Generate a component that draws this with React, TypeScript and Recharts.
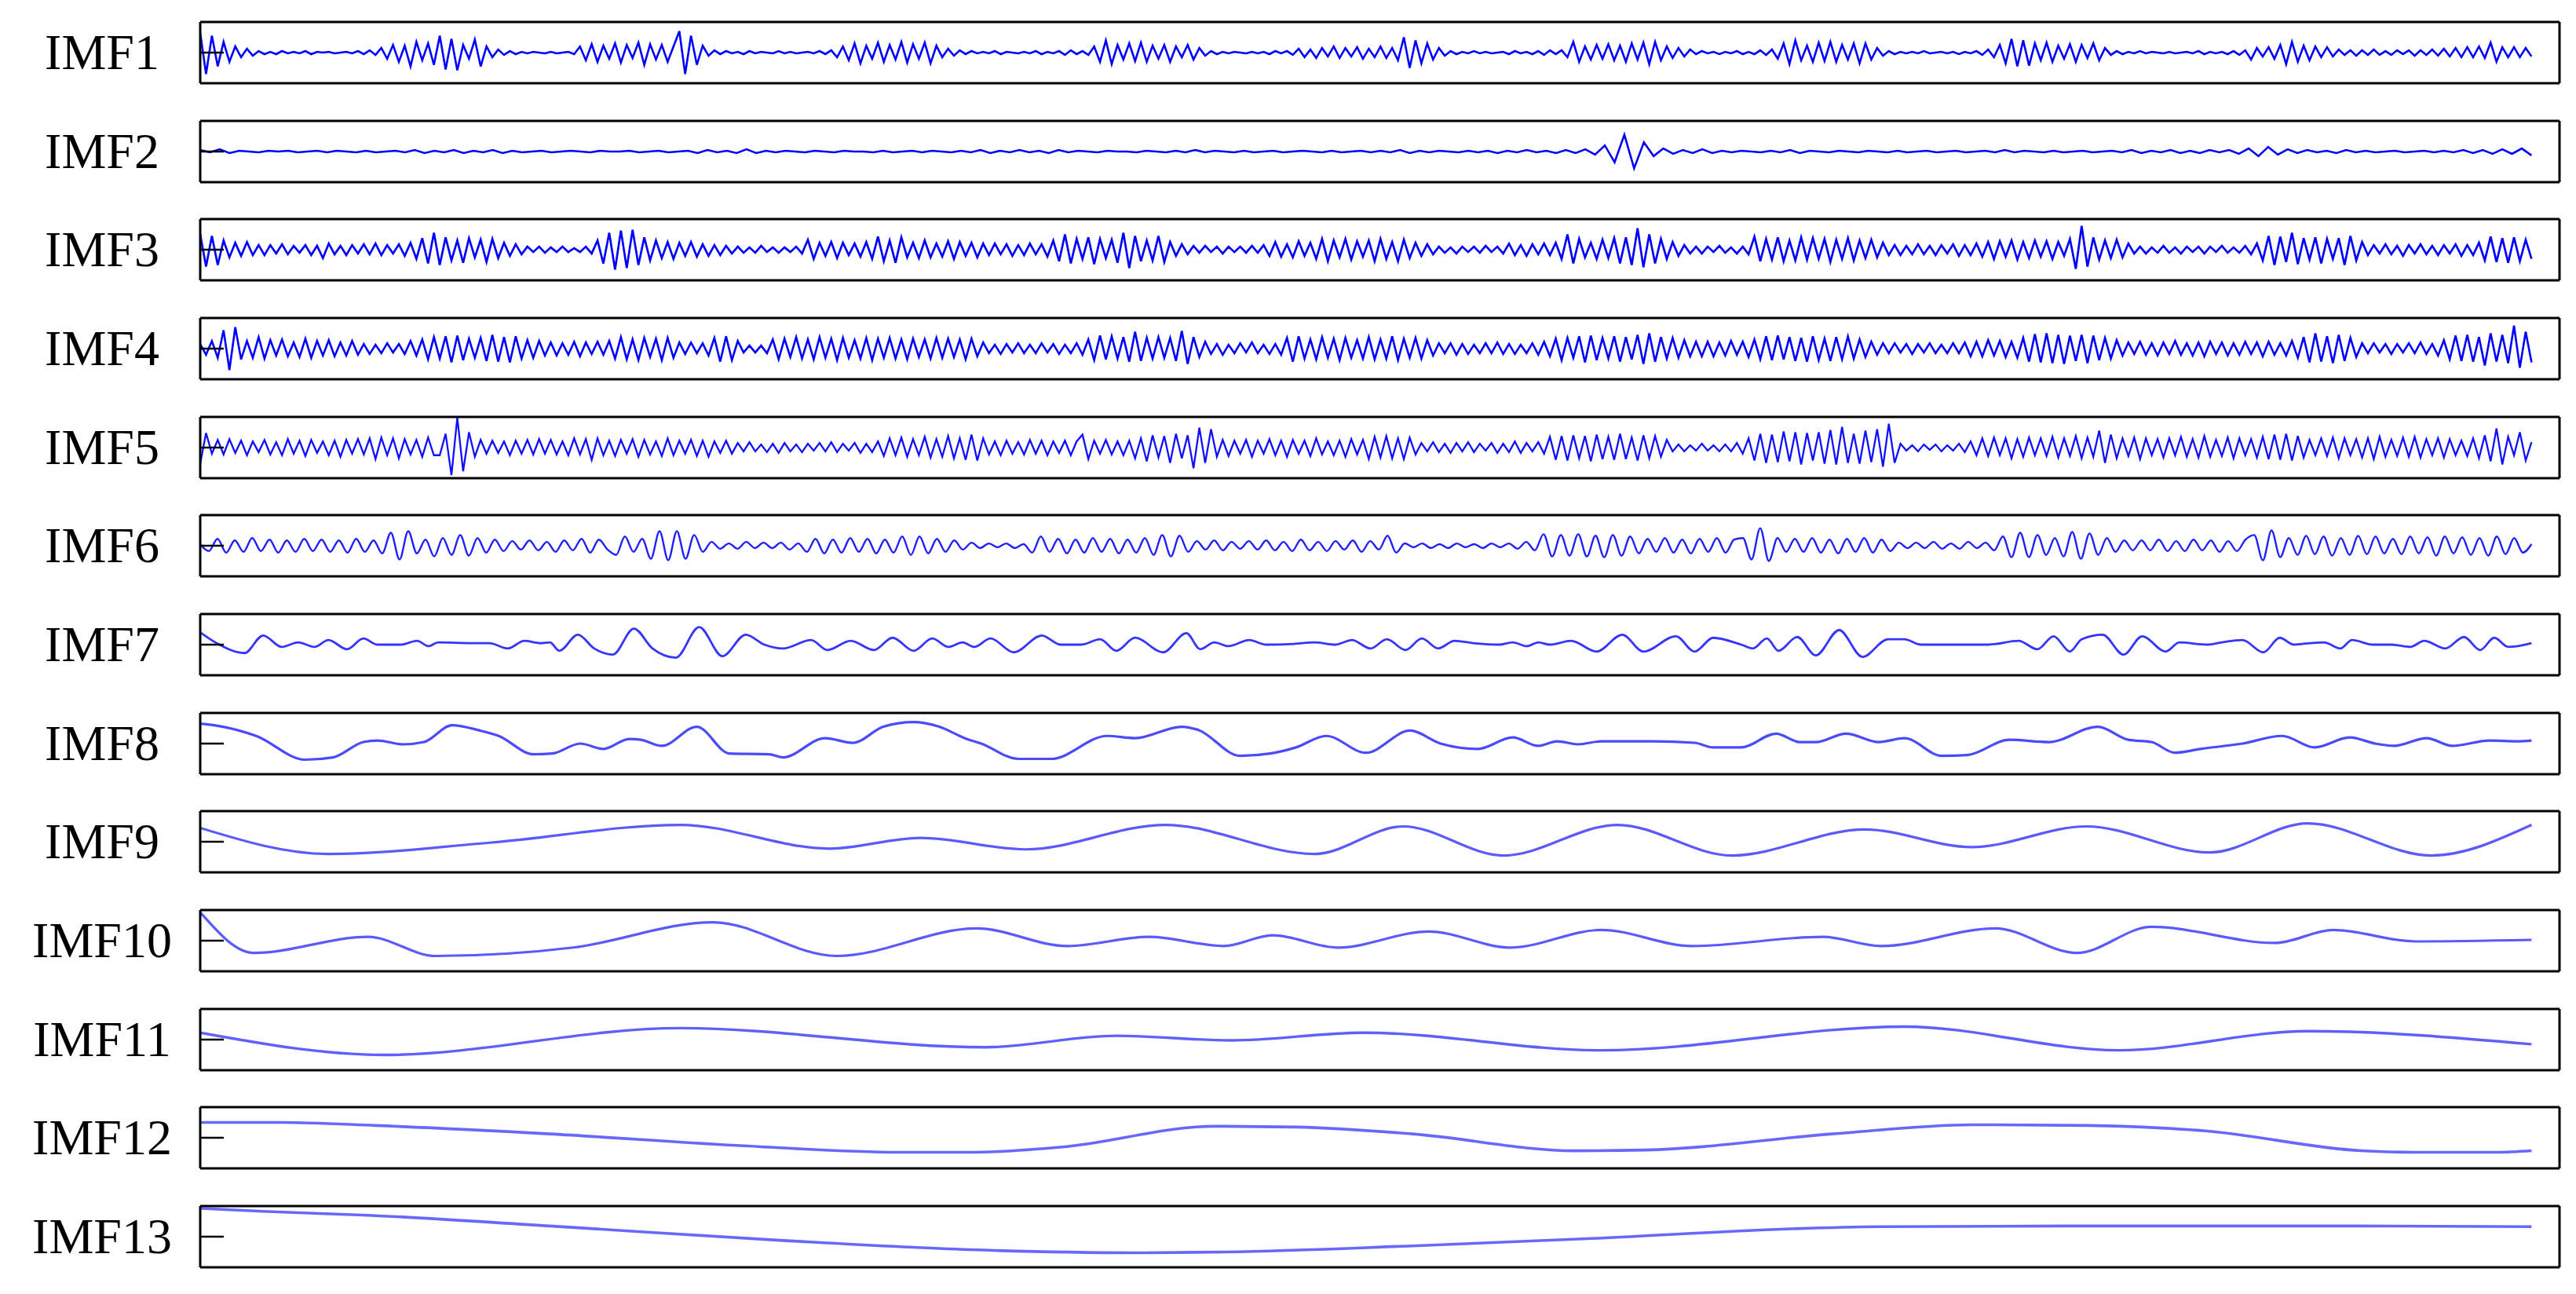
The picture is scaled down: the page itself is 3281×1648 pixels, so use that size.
import React from 'react';
import { LineChart, Line, XAxis, YAxis } from 'recharts';

const labels = ['IMF1', 'IMF2', 'IMF3', 'IMF4', 'IMF5', 'IMF6', 'IMF7', 'IMF8', 'IMF9', 'IMF10', 'IMF11', 'IMF12', 'IMF13'];

// Uniformly sampled extrema (high-frequency modes)
const imf1 = [
  26,-28,22,-18,14,-12,
  8,-6,5,-4,
  2,-2,1,-2,2,-1,1,-1,2,-2,1,0,1,-1,0,1,-1,2,-2,3,-3,
  6,-8,10,-12,9,-18,14,-10,12,-16,22,-22,18,-23,10,-8,17,-18,8,-6,4,
  -3,2,-2,1,-1,1,0,-1,1,-1,0,1,-2,
  8,-10,11,-12,9,-8,12,-13,10,-7,13,-16,11,-9,10,-12,8,
  28,-28,22,-16,9,
  -4,3,-2,2,-1,1,-2,2,-1,1,0,-1,2,-1,1,-1,0,1,-1,2,-2,3,
  -6,8,-10,12,-14,9,-8,13,-12,10,-9,14,-13,11,-8,13,-14,9,-6,5,-4,3,
  -2,2,-1,1,-1,2,-2,1,0,-1,1,-1,2,-2,1,-1,2,-3,3,-2,2,-3,
  8,-12,16,-15,10,-9,12,-11,13,-12,9,-8,10,-12,8,-6,10,-9,6,-4,
  2,-2,1,-1,1,0,-1,1,-1,1,-2,2,-1,2,-3,
  5,-6,4,-7,6,-5,8,-7,6,-5,7,-8,5,-6,8,-7,6,
  -10,20,-20,16,-14,12,-9,6,-4,
  2,-2,1,-1,2,-1,1,-1,0,1,-2,2,-1,1,-2,2,-3,3,-2,3,
  -6,14,-12,8,-9,10,-8,11,-10,9,-12,12,-9,13,-15,14,-10,8,-7,6,-5,4,
  -2,2,-1,1,-2,1,-1,2,-2,1,-2,3,-3,4,
  -8,12,-15,16,-10,9,-12,13,-11,14,-12,10,-9,12,-14,12,-9,6,-4,
  2,-2,1,-1,1,-1,2,-1,0,1,-1,1,-2,1,-1,2,-3,4,
  -6,10,-14,18,-18,16,-17,12,-10,13,-12,9,-8,11,-12,10,-7,12,-10,6,-3,
  2,-2,1,-1,2,-1,1,0,-1,1,-1,0,1,-1,2,-2,1,-1,1,-2,2,-3,3,
  -9,6,-5,7,-8,10,-15,14,-12,9,-10,8,-6,7,-5,4,-3,
  3,-4,3,-3,4,-3,2,-3,3,-2,3,-4,3,-3,4,-4,5,-5,6,
  -6,7,-6,8,-7,13,-12,7,-6,7,-6,6,-5,
];

const imf2 = [
  2,-1,3,-2,1,0,-1,1,0,1,
  -1,0,1,-1,1,0,-1,1,-1,0,
  1,-1,2,-2,1,-1,2,-2,1,-1,
  2,-2,1,-1,0,1,-1,0,1,0,
  -1,1,0,0,1,-1,0,1,-1,0,
  1,-2,2,-1,1,-2,3,-2,1,-1,
  1,0,-1,1,0,-1,1,0,0,-1,
  1,-1,0,1,-1,1,0,-1,1,-1,
  2,-2,1,-1,2,-1,1,-2,2,-1,
  1,0,-1,1,0,0,-1,1,0,-1,
  1,-1,2,-1,1,0,-1,1,-1,0,
  1,-1,0,1,0,-1,1,-1,0,1,
  -1,1,-1,2,-2,1,-1,1,0,-1,
  1,-1,1,-2,1,-1,2,-1,1,-2,
  2,-2,3,-4,8,-14,22,-22,12,-6,
  4,-3,2,-2,3,-2,1,-1,1,0,
  -1,1,-1,2,-2,1,0,-1,1,0,
  -1,1,0,-1,1,-1,0,1,-1,0,
  1,-1,0,1,-1,2,-1,1,0,-1,
  1,-1,0,1,-1,0,1,-1,2,-2,
  1,-1,2,-2,1,-2,2,-1,2,-3,
  4,-6,6,-4,3,-2,2,-1,1,-2,
  2,-1,1,-1,0,1,-1,0,1,-1,
  1,-1,2,-2,2,-3,3,-3,4,-5,
];

const imf3 = [
  20,-22,18,-20,12,
  -10,9,-8,10,-7,6,
  -7,6,-5,7,-6,5,-4,6,-7,5,-11,8,-6,5,-7,6,-5,7,-6,8,-7,6,-5,7,-8,
  9,-12,15,-18,22,-20,16,-14,12,-17,15,-10,13,-16,14,-11,9,-8,7,-6,
  4,-3,4,-4,3,-3,4,-3,2,-3,4,-5,
  12,-18,22,-26,25,-24,26,-20,16,-14,
  12,-11,10,-12,9,-8,10,-9,7,-8,6,-7,5,-5,
  4,-4,3,-4,5,-3,3,-4,3,-3,4,-5,
  13,-12,9,-8,10,-11,9,-7,8,-9,10,-12,17,-15,12,-17,16,-10,9,-11,12,-10,8,-9,11,-12,10,-8,9,-10,8,
  -7,8,-6,7,-8,6,-7,8,-6,7,-9,
  12,-15,20,-18,14,-12,16,-19,14,-11,13,-17,22,-24,18,-15,12,-14,18,-16,10,-8,7,-6,
  5,-4,5,-3,4,-5,4,-3,4,-4,5,-4,6,
  -8,10,-9,7,-10,11,-8,9,-12,14,-15,12,-10,14,-13,11,-9,12,-15,14,-12,10,-15,13,-11,9,-8,7,-6,
  4,-4,3,-5,4,-3,4,-4,5,-3,4,-5,
  8,-7,6,-8,7,-6,8,-7,9,
  -12,20,-18,14,-10,9,-12,13,-11,15,-18,16,-20,28,-23,20,-18,14,-12,10,-8,6,
  -5,4,-5,4,-3,5,-4,3,-5,4,-6,17,
  -15,14,-13,16,-15,12,-14,16,-13,15,-12,14,-16,13,-12,15,-14,12,-11,13,-10,9,
  -7,6,-7,5,-6,7,-6,5,-7,6,-5,7,-8,6,-7,8,-9,
  10,-12,11,-9,12,-13,10,-11,12,-9,11,-12,10,-8,
  14,-25,31,-22,16,
  -13,12,-11,13,-10,8,
  -5,4,-5,3,-4,5,-4,3,-5,4,-3,4,-5,4,-3,5,-4,3,-4,5,-6,8,
  -14,18,-20,17,-16,22,-19,15,-13,16,-18,14,-12,15,-20,18,-14,10,
  -7,6,-5,7,-6,5,-8,6,-5,7,-6,5,-7,6,-5,7,-8,6,-7,9,
  -14,17,-16,15,-17,16,-15,13,-12,
];

const imf4 = [
  6,-8,10,-12,24,-28,28,-14,
  10,-12,15,-13,11,-9,12,-10,8,-11,13,-12,10,-9,11,-10,8,-9,10,-8,
  6,-7,5,-6,7,-5,6,-7,10,-9,
  12,-14,15,-13,16,-18,17,-15,13,-12,14,-16,18,-17,15,-18,16,-13,11,-12,10,-9,
  8,-9,7,-8,9,-10,8,-7,9,-8,10,
  -13,15,-14,12,-15,14,-11,13,-15,14,-12,
  8,-7,8,-6,7,-9,
  14,-17,16,-15,10,
  -5,4,-5,4,-6,
  12,-14,13,-11,15,-13,12,-14,15,-12,13,-15,14,-12,11,-13,14,-15,13,-12,14,-13,12,-14,13,-11,12,-13,14,-12,13,-11,12,-14,13,-10,8,
  -6,5,-7,6,-5,7,-6,5,-6,7,-5,6,-7,5,-6,7,-8,
  12,-15,17,-14,16,-13,15,-17,22,-16,14,-13,15,-12,14,-16,23,-20,15,-11,9,
  -7,6,-8,5,-6,7,-5,8,-6,5,-7,6,-8,
  14,-17,16,-13,12,-14,15,-12,13,-15,14,-12,11,-13,15,-14,12,-13,16,-15,13,-12,14,-13,11,-9,
  7,-6,7,-8,6,-7,5,-6,7,-6,8,-7,6,-7,5,-6,7,-8,9,-10,
  13,-15,14,-12,16,-18,17,-15,14,-13,16,-17,15,-14,18,-20,20,-17,15,-13,14,-12,11,-10,9,
  -10,9,-10,8,-9,10,-8,9,-11,12,-14,
  16,-15,17,-14,15,-16,14,-17,16,-15,13,-16,15,-14,16,-13,12,-11,9,-8,
  7,-6,7,-5,6,-7,6,-5,7,-6,5,-6,7,-6,8,
  -10,9,-10,11,-9,10,-11,9,-12,14,
  -17,19,-18,20,-19,18,-20,17,-16,18,-19,17,-15,14,-13,11,-9,
  8,-7,9,-8,7,-9,8,-7,10,-8,7,-9,8,-10,9,-7,8,-9,7,-8,9,-7,8,-10,9,-8,7,-9,10,-12,
  15,-18,20,-17,16,-19,18,-16,14,-11,
  7,-6,7,-5,6,-7,6,-5,7,-6,8,-7,6,-9,11,
  -14,17,-16,18,-17,15,-22,20,-17,18,-19,30,-25,22,-18,
];

const imf5 = [
  -21,19,
  -8,10,-9,11,-7,9,-10,8,-6,10,-9,7,-10,11,-8,9,-11,10,-7,8,-10,9,-12,10,-8,11,-9,12,-15,13,-10,12,-14,11,-9,10,-12,13,-10,
  -10,18,-36,39,-31,20,-12,
  10,-8,9,-7,8,-10,9,-8,10,-9,11,-8,10,-9,8,-10,12,-9,11,-16,12,-10,9,-11,10,-8,11,-12,10,-9,8,-11,12,-10,9,-8,10,-11,9,-12,8,-7,9,-8,
  6,-5,7,-5,4,-6,5,-7,6,-5,4,-6,5,-4,6,-5,7,-6,5,-4,6,-7,5,-6,8,
  -11,12,-10,13,-12,11,-10,14,-13,11,-12,15,-14,12,-16,17,-17,12,
  -9,8,-10,9,-8,7,-9,10,-8,9,-10,8,-7,9,-10,8,17,-15,9,-8,10,-9,8,-10,9,
  -14,12,-18,16,-13,15,-20,18,-14,16,-27,26,-20,24,
  -12,10,-11,9,-8,10,-12,9,-8,11,-10,9,-12,10,-8,9,-11,12,-9,8,-10,9,-12,11,-9,10,
  -15,14,-13,15,-14,12,-15,13,-9,
  6,-5,7,-6,5,-7,6,-5,7,-6,5,-4,6,-7,5,-6,8,-7,6,-5,7,-8,
  14,-16,15,-17,16,-14,15,-18,17,-15,14,-16,18,-15,13,-17,16,-14,15,-12,10,
  -5,4,-5,3,-4,5,-4,3,-5,4,-5,6,-8,12,-17,
  18,-20,17,-19,21,-18,20,-22,19,-17,20,-21,23,-22,27,-20,18,-21,22,-19,24,-25,31,-20,
  5,-4,3,-5,4,-3,4,-5,3,-4,5,-6,8,
  -10,12,-11,13,-10,12,-14,11,-12,13,-10,12,-11,14,-13,12,-11,15,-14,13,-12,22,-20,17,-14,12,-11,13,-15,12,-10,11,-13,12,-10,14,-12,11,-13,15,-12,10,-11,13,-14,12,-10,11,-13,14,-15,
  17,-16,18,-17,15,-13,10,
  -10,12,-11,13,-14,12,-10,11,-13,12,-15,14,-12,10,-11,13,-12,14,-13,11,-10,12,-13,11,-10,9,-11,12,
  -14,16,-18,25,-22,14,-10,20,-17,7,
];

const imf6 = [
  2,-7,9,-9,7,-8,10,-7,8,-9,7,-8,9,-7,8,-8,7,-9,9,-8,7,-10,
  17,-18,19,-10,8,-14,
  10,-12,14,-13,10,-9,8,-7,
  6,-5,7,-6,5,-8,7,-6,9,-9,8,-5,-12,12,-8,9,-17,
  19,-19,19,-17,14,-8,5,
  -4,3,-4,5,-3,4,-3,4,-5,3,
  -8,9,-10,8,-9,10,-8,9,-10,8,-9,12,-12,12,-10,9,-8,7,-5,4,-3,3,
  -2,3,-3,2,
  -9,12,-8,9,-10,8,-9,10,-8,9,-10,8,-9,10,
  -12,14,-14,13,-8,
  6,-5,7,-6,5,-4,6,-5,7,-6,5,-7,8,-6,5,-7,6,-5,7,-8,6,-5,
  13,-9,
  3,-2,3,-3,2,-3,3,-2,2,-3,3,-2,3,-4,5,-6,
  15,-14,14,-13,15,-14,13,-15,14,-13,12,-10,9,
  -8,10,-9,8,-10,9,-8,10,-9,8,10,-18,
  23,-20,10,-8,
  9,-8,10,-9,8,-10,9,-8,10,-9,8,-7,4,-3,4,-3,5,-4,3,-4,5,-3,4,-6,
  12,-15,17,-15,14,-12,10,-14,18,-17,16,-12,10,-8,7,
  -6,7,-6,8,-7,6,-7,8,-6,7,-8,6,-7,8,
  14,-19,20,-15,10,
  -12,13,-11,12,-13,10,-12,13,-11,12,-10,9,-11,12,-10,11,-13,12,-10,11,-12,10,-13,12,-11,10,-9,2,
];

// [time, value] pairs (lower-frequency modes)
const imf7 = [
  [0,16],[7,2],[19,-11],[27,12],[35,-3],[42,3],[49,-3],[55,6],[63,-6],[70,8],[76,0],[86,0],[93,5],[98,-2],[102,3],[117,2],[124,2],[132,-5],[139,5],[146,2],[150,3],[154,-8],[162,13],[169,-5],[177,-13],[186,21],[194,-5],[204,-17],[214,23],[224,-15],[234,13],[242,0],[250,-5],[262,6],[269,-7],[279,5],[289,-7],[297,9],[306,-8],[314,8],[321,-3],[327,3],[332,-3],
  [339,8],[349,-10],[361,12],[369,0],[378,0],[386,7],[393,-8],[401,9],[413,-10],[423,15],[429,-6],[435,3],[441,-2],[450,6],[457,0],[469,1],[478,3],[487,0],[494,6],[502,-5],[509,7],[517,-7],[524,8],[531,-5],[538,5],[546,2],[557,0],[563,3],[569,-2],[574,3],[579,0],[588,5],[599,-9],[610,13],[619,-9],[633,11],[641,-9],[649,9],[661,0],[666,-5],
  [672,8],[677,-8],[685,10],[693,-14],[703,19],[713,-16],[724,7],[731,7],[738,0],[750,0],[767,0],[780,5],[788,-6],[795,11],[802,-9],[807,7],[816,13],[825,-13],[833,11],[843,-9],[849,3],[861,0],[867,3],[876,6],[885,-10],[892,9],[898,0],[905,2],[911,3],[918,-5],[923,6],[932,0],[940,0],[948,-3],[954,5],[963,-5],[971,10],[978,-7],[984,9],[990,-3],[1000,2],
];

const imf8 = [
  [0,26],[8,23],[24,10],[45,-21],[57,-18],[70,2],[76,4],[87,-1],[96,2],[108,24],[120,17],[128,10],[143,-14],[151,-13],[163,0],[173,-7],[184,6],[189,5],[198,-3],[213,22],[227,-13],[244,-14],[250,-18],[268,7],[280,1],[293,22],[306,28],[317,22],[328,7],
  [335,0],[351,-20],[365,-20],[389,10],[401,7],[421,22],[428,18],[446,-16],[459,-13],[470,-5],[483,10],[500,-12],[519,17],[532,0],[548,-7],[563,8],[574,-3],[582,3],[591,-1],[601,3],[617,3],[623,3],[641,1],[649,-5],[661,-5],
  [676,13],[686,2],[693,2],[706,13],[720,2],[731,7],[747,-16],[758,-15],[776,5],[793,2],[814,22],[827,5],[837,2],[847,-12],[858,-7],[876,0],[893,10],[907,-5],[922,8],[933,0],[941,-3],[955,7],[966,-3],[982,4],[994,3],[1000,4],
];

const imf9 = [
  [0,18],[55,-16],[125,-1],[206,22],[270,-9],[309,5],[354,-10],[414,22],[478,-16],[516,20],[559,-18],[608,22],[657,-18],[714,16],[760,-7],[809,20],[862,-14],[904,24],[957,-18],[1000,22],
];

const imf10 = [
  [0,37],[23,-16],[72,5],[101,-20],[160,-9],[220,24],[273,-20],[333,16],[372,-7],[407,5],[439,-7],[460,7],[488,-9],[527,12],[562,-9],[601,14],[640,-7],[696,5],[721,-7],[770,16],[805,-16],[837,18],[890,-3],[915,14],[950,-1],[1000,1],
];

const imf11 = [
  [0,9],[79,-20],[206,15],[337,-10],[393,5],[442,-1],[499,9],[601,-14],[731,17],[823,-14],[904,11],[1000,-6],
];

const imf12 = [
  [0,20],[35,20],[75,16],[150,5],[230,-10],[300,-19],[330,-19],[370,-12],[435,15],[470,14],[520,5],[590,-17],[620,-16],[700,5],[760,17],[810,16],[860,9],[927,-17],[950,-19],[985,-19],[1000,-17],
];

const imf13 = [
  [0,37],[27,33],[72,28],[150,14],[250,-5],[330,-17],[400,-21],[440,-20],[520,-12],[600,-2],[680,10],[720,13],[800,14],[925,14],[1000,13],
];

const uniformRows = (vals: number[]) => vals.map((v, i) => ({ t: (i * 1000) / (vals.length - 1), v }));
const pairRows = (pairs: number[][]) => pairs.map(([t, v]) => ({ t, v }));

const PANELS = [
  { rows: uniformRows(imf1), color: '#0000ff', w: 2.6, curve: 'linear' },
  { rows: uniformRows(imf2), color: '#0000ff', w: 2.6, curve: 'linear' },
  { rows: uniformRows(imf3), color: '#0000ff', w: 2.7, curve: 'linear' },
  { rows: uniformRows(imf4), color: '#0000ff', w: 2.6, curve: 'linear' },
  { rows: uniformRows(imf5), color: '#1010ff', w: 2.3, curve: 'linear' },
  { rows: uniformRows(imf6), color: '#2020ff', w: 2.4, curve: 'monotone' },
  { rows: pairRows(imf7), color: '#3535ff', w: 2.8, curve: 'monotone' },
  { rows: pairRows(imf8), color: '#4a4aff', w: 3.2, curve: 'monotone' },
  { rows: pairRows(imf9), color: '#5a5aff', w: 3.2, curve: 'monotone' },
  { rows: pairRows(imf10), color: '#5a5aff', w: 3.2, curve: 'monotone' },
  { rows: pairRows(imf11), color: '#6060ff', w: 3.4, curve: 'monotone' },
  { rows: pairRows(imf12), color: '#6868ff', w: 3.6, curve: 'monotone' },
  { rows: pairRows(imf13), color: '#6868ff', w: 3.6, curve: 'monotone' },
];

const PLOT_LEFT = 256;
const PLOT_W = 3004;
const PLOT_H = 78;
const TOP0 = 28;
const STEP = 125.65;
const PAD = 4;
const AX = 1;
const FRAME = { stroke: '#000', strokeWidth: 3 };

export default function App() {
  return (
    <div style={{ position: 'absolute', left: 0, top: 0, width: 3281, height: 1648, background: '#fff', overflow: 'hidden' }}>
      <svg width={3281} height={1648} style={{ position: 'absolute', left: 0, top: 0 }}>
        {labels.map((lab, i) => (
          <text
            key={lab}
            x={130}
            y={Math.round(TOP0 + STEP * i + PLOT_H / 2 + 21)}
            textAnchor="middle"
            fontFamily="'Liberation Serif', 'Times New Roman', serif"
            fontSize={64}
            fill="#000"
          >
            {lab}
          </text>
        ))}
      </svg>
      {PANELS.map((p, i) => (
        <div key={labels[i]} style={{ position: 'absolute', left: PLOT_LEFT - PAD - AX, top: Math.round(TOP0 + STEP * i) - PAD - AX }}>
          <LineChart
            width={PLOT_W + 2 * PAD + 2 * AX}
            height={PLOT_H + 2 * PAD + 2 * AX}
            data={p.rows}
            margin={{ top: PAD, right: PAD, bottom: PAD, left: PAD }}
          >
            <XAxis dataKey="t" type="number" domain={[0, 1012]} allowDataOverflow height={AX} tick={false} tickLine={false} axisLine={FRAME} />
            <XAxis xAxisId="top" orientation="top" dataKey="t" type="number" domain={[0, 1012]} allowDataOverflow height={AX} tick={false} tickLine={false} axisLine={FRAME} />
            <YAxis
              type="number"
              domain={[-40, 40]}
              allowDataOverflow
              width={AX}
              mirror
              ticks={[0]}
              interval={0}
              tickSize={30}
              tickMargin={0}
              tick={{ fill: 'transparent', fontSize: 1 }}
              tickFormatter={() => ''}
              tickLine={{ stroke: '#000', strokeWidth: 2.5 }}
              axisLine={FRAME}
            />
            <YAxis yAxisId="right" orientation="right" type="number" domain={[-40, 40]} ticks={[0]} width={AX} tick={false} tickLine={false} axisLine={FRAME} />
            <Line
              dataKey="v"
              type={p.curve as any}
              stroke={p.color}
              strokeWidth={p.w}
              dot={false}
              activeDot={false}
              isAnimationActive={false}
            />
          </LineChart>
        </div>
      ))}
    </div>
  );
}
